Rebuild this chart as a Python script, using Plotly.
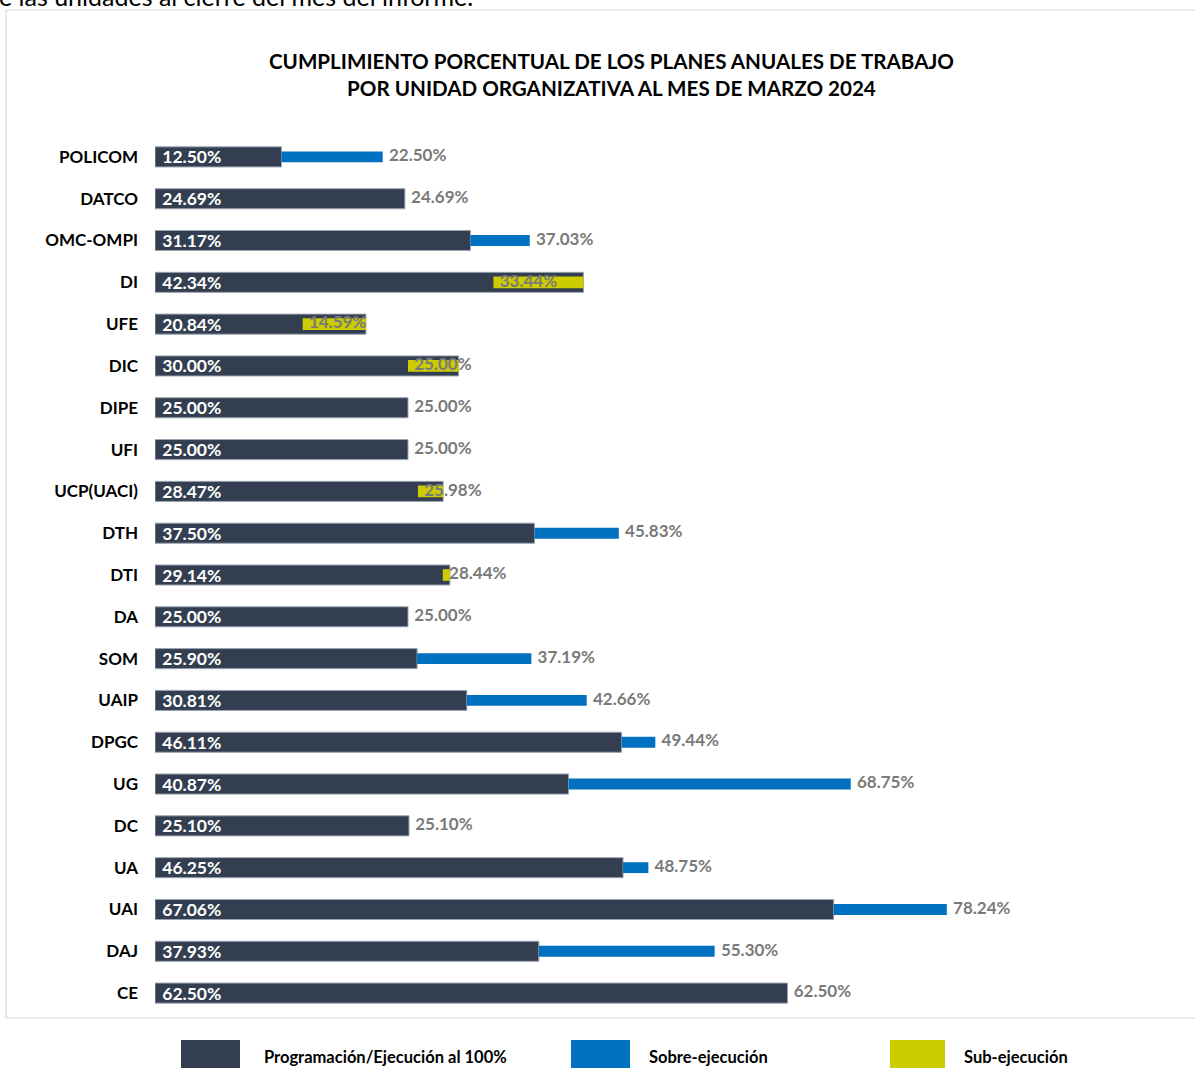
import plotly.graph_objects as go

units = ["POLICOM", "DATCO", "OMC-OMPI", "DI", "UFE", "DIC", "DIPE", "UFI", "UCP(UACI)",
         "DTH", "DTI", "DA", "SOM", "UAIP", "DPGC", "UG", "DC", "UA", "UAI", "DAJ", "CE"]
programado = [12.50, 24.69, 31.17, 42.34, 20.84, 30.00, 25.00, 25.00, 28.47,
              37.50, 29.14, 25.00, 25.90, 30.81, 46.11, 40.87, 25.10, 46.25, 67.06, 37.93, 62.50]
ejecutado = [22.50, 24.69, 37.03, 33.44, 14.59, 25.00, 25.00, 25.00, 25.98,
             45.83, 28.44, 25.00, 37.19, 42.66, 49.44, 68.75, 25.10, 48.75, 78.24, 55.30, 62.50]

title_text = ("CUMPLIMIENTO PORCENTUAL DE LOS PLANES ANUALES DE TRABAJO<br>"
              "POR UNIDAD ORGANIZATIVA AL MES DE MARZO 2024")
legend_names = ["Programación/Ejecución al 100%", "Sobre-ejecución", "Sub-ejecución"]

C_DARK = "#333F50"
C_BLUE = "#0070C0"
C_YEL = "#CCCC00"
C_GRAY = "#7A7A7A"
FONT = "Lato"

W, H = 1195, 1068
L, T, B, R = 155, 136, 54, 79
PW, PH = W - L - R, H - T - B

def px(x):
    return (x - L) / PW

def py(y):
    return (H - B - y) / PH

sobre_base, sobre_len, sub_base, sub_len = [], [], [], []
for p, e in zip(programado, ejecutado):
    sobre_base.append(p)
    sobre_len.append(max(e - p, 0))
    sub_base.append(min(e, p))
    sub_len.append(max(p - e, 0))

fig = go.Figure()
fig.add_trace(go.Bar(
    y=units, x=programado, orientation="h", width=0.48,
    marker=dict(color=C_DARK, line=dict(color="#9AA4B0", width=1)),
    text=[" " + f"{v:.2f}%" for v in programado],
    textposition="inside", insidetextanchor="start", constraintext="none",
    textfont=dict(family=FONT, size=17.5, color="white", weight="bold"),
    name=legend_names[0], showlegend=False, hoverinfo="skip"))
fig.add_trace(go.Bar(
    y=units, x=sobre_len, base=sobre_base, orientation="h", width=0.26,
    marker=dict(color=C_BLUE, line=dict(width=0)),
    name=legend_names[1], showlegend=False, hoverinfo="skip"))
fig.add_trace(go.Bar(
    y=units, x=sub_len, base=sub_base, orientation="h", width=0.28,
    marker=dict(color=C_YEL, line=dict(width=0)),
    name=legend_names[2], showlegend=False, hoverinfo="skip"))
fig.add_trace(go.Scatter(
    y=units, x=ejecutado, mode="text",
    text=[" \u2009" + f"{v:.2f}%" for v in ejecutado], textposition="middle right",
    textfont=dict(family=FONT, size=17, color=C_GRAY, weight="bold"),
    showlegend=False, hoverinfo="skip"))

fig.update_layout(
    width=W, height=H, margin=dict(l=L, r=R, t=T, b=B),
    barmode="overlay", plot_bgcolor="white", paper_bgcolor="white",
    font=dict(family=FONT),
    xaxis=dict(range=[0, PW / 10.12], visible=False, fixedrange=True),
    yaxis=dict(categoryorder="array", categoryarray=units,
               range=[len(units) - 0.5, -0.5], autorange=False, fixedrange=True,
               showgrid=False, showline=False, zeroline=False, ticks="", ticklabelstandoff=16,
               tickfont=dict(family=FONT, size=17, color="black", weight="bold")),
)

shapes = [dict(type="rect", xref="paper", yref="paper",
               x0=px(6), x1=px(1210), y0=py(1018), y1=py(10),
               line=dict(color="#D9D9D9", width=1.2), fillcolor="rgba(0,0,0,0)", layer="below")]
leg = [(181, 240, C_DARK, 262), (571, 630, C_BLUE, 647), (890, 945, C_YEL, 962)]
annotations = []
for (x0, x1, c, tx), name in zip(leg, legend_names):
    shapes.append(dict(type="rect", xref="paper", yref="paper",
                       x0=px(x0), x1=px(x1), y0=py(1075), y1=py(1040),
                       line=dict(width=0), fillcolor=c))
    annotations.append(dict(xref="paper", yref="paper", x=px(tx), y=py(1057),
                            xanchor="left", yanchor="middle", showarrow=False, text=name,
                            font=dict(family=FONT, size=16.5, color="black", weight="bold")))

annotations.append(dict(xref="paper", yref="paper", x=px(611), y=py(74.5),
                        xanchor="center", yanchor="middle", showarrow=False, text=title_text,
                        font=dict(family=FONT, size=20.6, color="black", weight="bold")))
annotations.append(dict(xref="paper", yref="paper", x=px(-3), y=py(13),
                        xanchor="left", yanchor="bottom", showarrow=False,
                        text="e las unidades al cierre del mes del informe.",
                        font=dict(family=FONT, size=25, color="black")))

fig.update_layout(shapes=shapes, annotations=annotations)
fig.write_html("out.html", config={"displayModeBar": False},
               post_script="document.body.style.margin='0px';")
